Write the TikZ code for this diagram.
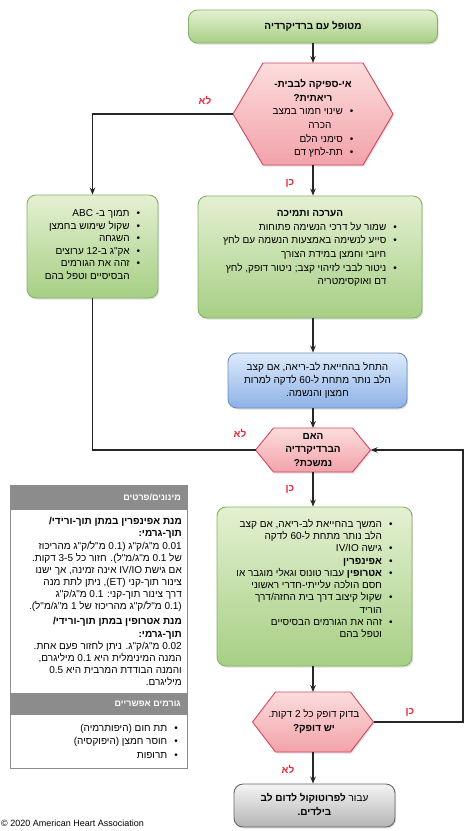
\documentclass[tikz,border=0pt]{standalone}
\usepackage{fontspec}
\setmainfont{Liberation Sans}
\newfontfamily\hebfont{Liberation Sans}[Script=Hebrew]
\usetikzlibrary{arrows.meta,shadows}
\TeXXeTstate=1

\definecolor{grnline}{HTML}{82B366}
\definecolor{grntop}{HTML}{E4F0D2}
\definecolor{grnbot}{HTML}{A6CF84}
\definecolor{pnkline}{HTML}{D6455E}
\definecolor{pnktop}{HTML}{FCDDDD}
\definecolor{pnkbot}{HTML}{F2A2AA}
\definecolor{blueline}{HTML}{6C8EBF}
\definecolor{bluetop}{HTML}{DDEAFB}
\definecolor{bluebot}{HTML}{8DB2E6}
\definecolor{grayline}{HTML}{666666}
\definecolor{graytop}{HTML}{F4F4F4}
\definecolor{graybot}{HTML}{B5B5B5}
\definecolor{hdrgray}{HTML}{8C8C8C}
\definecolor{yesno}{HTML}{E0283C}

% one right-to-left line, a bullet line, a continued line
\newcommand\rl[1]{\beginR#1\endR}
\newcommand\bl[1]{\rl{\textbullet\hspace{7pt}#1}}
\newcommand\cl[1]{\rl{\hphantom{\textbullet}\hspace*{7pt}#1}}
\newcommand\tc[1]{\multicolumn{1}{@{}c@{}}{#1}}

% hexagon: name, cx, cy, half width, half height, inset
\newcommand\hexshape[6]{%
  \path[hexfill] (#2-#4,#3) -- (#2-#4+#6,#3-#5) -- (#2+#4-#6,#3-#5)
    -- (#2+#4,#3) -- (#2+#4-#6,#3+#5) -- (#2-#4+#6,#3+#5) -- cycle;
  \coordinate (#1w) at (#2-#4,#3);
  \coordinate (#1e) at (#2+#4,#3);
  \coordinate (#1n) at (#2,#3-#5);
  \coordinate (#1s) at (#2,#3+#5);
}

\begin{document}
\begin{tikzpicture}[x=1pt,y=-1pt,
  every node/.style={font=\hebfont\fontsize{10}{13.6}\selectfont},
  flowline/.style={draw=black!85,line width=1.1pt},
  arr/.style={flowline,-{Stealth[length=7pt,width=5.5pt]}},
  box/.style={rounded corners=9pt,line width=0.9pt,inner sep=0pt,
    drop shadow={shadow xshift=1.2pt,shadow yshift=-1.5pt,opacity=0.25}},
  greenbox/.style={box,draw=grnline,top color=grntop,bottom color=grnbot},
  bluebox/.style={box,draw=blueline,top color=bluetop,bottom color=bluebot},
  graybox/.style={box,draw=grayline,top color=graytop,bottom color=graybot},
  hexfill/.style={draw=pnkline,line width=0.9pt,top color=pnktop,bottom color=pnkbot,
    drop shadow={shadow xshift=1.2pt,shadow yshift=-1.5pt,opacity=0.25}},
  answer/.style={text=yesno,font=\hebfont\fontsize{10}{12}\selectfont\bfseries},
  panelhead/.style={text=white,anchor=east,inner sep=0pt,
    font=\hebfont\fontsize{9}{11}\selectfont\bfseries},
  paneltext/.style={anchor=north east,inner sep=0pt,
    font=\hebfont\fontsize{10}{12.15}\selectfont},
]
\useasboundingbox (0,0) rectangle (471,831);

% flowchart
\node[greenbox,minimum width=249pt,minimum height=33pt] (start) at (313,26.5)
  {\bfseries\rl{מטופל עם ברדיקרדיה}};

\hexshape{hfail}{313}{114}{80}{51}{30}
\node (hfailtxt) at (313,119) {\begin{tabular}{@{}r@{}}
  \tc{\bfseries\rl{אי-ספיקה לבבית-}}\\
  \tc{\bfseries\rl{ריאתית?}}\\
  \bl{שינוי חמור במצב}\\
  \rl{\hspace*{22pt}הכרה}\\
  \bl{סימני הלם}\\
  \bl{תת-לחץ דם}
\end{tabular}};

\node[greenbox,minimum width=131pt,minimum height=103pt,
  font=\hebfont\fontsize{10}{12.5}\selectfont] (support) at (92.5,246.5)
  {\begin{tabular}{@{}r@{}}
  \bl{תמוך ב- ABC}\\
  \bl{שקול שימוש בחמצן}\\
  \bl{השגחה}\\
  \bl{אק"ג ב-12 ערוצים}\\
  \bl{זהה את הגורמים}\\
  \cl{הבסיסיים וטפל בהם}\\[2pt]
\end{tabular}};

\node[greenbox,minimum width=224pt,minimum height=122pt] (assess) at (310,257)
  {\begin{tabular}{@{}r@{}}
  \tc{\bfseries\rl{הערכה ותמיכה}}\\
  \bl{שמור על דרכי הנשימה פתוחות}\\
  \bl{סייע לנשימה באמצעות הנשמה עם לחץ}\\
  \cl{חיובי וחמצן במידת הצורך}\\
  \bl{ניטור לבבי לזיהוי קצב; ניטור דופק, לחץ}\\
  \cl{דם ואוקסימטריה}\\[18pt]
\end{tabular}};

\node[bluebox,minimum width=179pt,minimum height=55pt,
  font=\hebfont\fontsize{10}{13}\selectfont] (cpr) at (317.5,380.5)
  {\begin{tabular}{@{}c@{}}
  \rl{התחל בהחייאת לב-ריאה, אם קצב}\\
  \rl{הלב נותר מתחת ל-60 לדקה למרות}\\
  \rl{חמצון והנשמה.}
\end{tabular}};

\hexshape{hpers}{313}{450}{57.5}{22}{18}
\node (hperstxt) at (313,450) {\bfseries\begin{tabular}{@{}c@{}}
  \rl{האם}\\
  \rl{הברדיקרדיה}\\
  \rl{נמשכת?}
\end{tabular}};

\node[greenbox,minimum width=195pt,minimum height=159pt,
  font=\hebfont\fontsize{10}{12.3}\selectfont] (treat) at (314.5,586.5)
  {\begin{tabular}{@{}r@{}}
  \bl{המשך בהחייאת לב-ריאה, אם קצב}\\
  \cl{הלב נותר מתחת ל-60 לדקה}\\
  \bl{גישה IV/IO}\\
  \bl{\bfseries אפינפרין}\\
  \bl{{\bfseries אטרופין} עבור טונוס וגאלי מוגבר או}\\
  \cl{חסם הולכה עלייתי-חדרי ראשוני}\\
  \bl{שקול קיצוב דרך בית החזה/דרך}\\
  \cl{הוריד}\\
  \bl{זהה את הגורמים הבסיסיים}\\
  \cl{וטפל בהם}\\[13pt]
\end{tabular}};

\hexshape{hpulse}{313}{722}{60.5}{30}{23}
\node (hpulsetxt) at (314,722) {\begin{tabular}{@{}c@{}}
  \rl{בדוק דופק כל 2 דקות.}\\
  \bfseries\rl{יש דופק?}
\end{tabular}};

\node[graybox,minimum width=161pt,minimum height=43pt] (arrest) at (314.5,805.5)
  {\begin{tabular}{@{}c@{}}
  \rl{עבור {\bfseries לפרוטוקול לדום לב}}\\
  \bfseries\rl{בילדים.}
\end{tabular}};

\coordinate (loop) at (463,722);

% connectors
\draw[arr] (start.south) -- (hfailn);
\draw[arr] (hfailw) -| (support.north);
\draw[arr] (hfails) -- (assess.north -| hfails);
\draw[arr] (assess.south -| hfails) -- (cpr.north -| hfails);
\draw[arr] (cpr.south -| hfails) -- (hpersn);
\draw[flowline] (support.south) |- (hpersw);
\draw[arr] (hperss) -- (treat.north -| hperss);
\draw[arr] (treat.south -| hperss) -- (hpulsen);
\draw[arr] (hpulses) -- (arrest.north -| hpulses);
\draw[arr] (hpulsee) -- (loop) |- (hperse);

\node[answer] (no1) at (205,101) {\rl{לא}};
\node[answer] (yes1) at (290,183) {\rl{כן}};
\node[answer] (no2) at (240,434) {\rl{לא}};
\node[answer] (yes2) at (290,489) {\rl{כן}};
\node[answer] (yes3) at (410,712) {\rl{כן}};
\node[answer] (no3) at (288,770) {\rl{לא}};

% side panel
\draw[draw=black!45,fill=white,line width=0.8pt] (10,485) rectangle (187,768);
\fill[hdrgray] (10,485) rectangle (187,510);
\fill[hdrgray] (10,693) rectangle (187,715);
\node[panelhead] (dosehead) at (181,497.5) {\rl{מינונים/פרטים}};
\node[panelhead] (causehead) at (181,704) {\rl{גורמים אפשריים}};

\node[paneltext] (dosetxt) at (182,516) {\begin{tabular}{@{}r@{}}
  \bfseries\rl{מנת אפינפרין במתן תוך-ורידי/}\\
  \bfseries\rl{תוך-גרמי:}\\
  \rl{0.01 מ"ג/ק"ג (0.1 מ"ל/ק"ג מהריכוז}\\
  \rl{של 0.1 מ"ג/מ"ל). חזור כל 3-5 דקות.}\\
  \rl{אם גישת IV/IO אינה זמינה, אך ישנו}\\
  \rl{צינור תוך-קני (ET)\kern0pt, ניתן לתת מנה}\\
  \rl{דרך צינור תוך-קני: 0.1 מ"ג/ק"ג}\\
  \rl{(0.1 מ"ל/ק"ג מהריכוז של 1 מ"ג/מ"ל).}\\[3pt]
  \bfseries\rl{מנת אטרופין במתן תוך-ורידי/}\\
  \bfseries\rl{תוך-גרמי:}\\
  \rl{0.02 מ"ג/ק"ג. ניתן לחזור פעם אחת.}\\
  \rl{המנה המינימלית היא 0.1 מיליגרם,}\\
  \rl{והמנה הבודדת המרבית היא 0.5}\\
  \rl{מיליגרם.}
\end{tabular}};

\node[paneltext,font=\hebfont\fontsize{10}{13.4}\selectfont] (causetxt) at (178,722)
  {\begin{tabular}{@{}r@{}}
  \bl{תת חום (היפותרמיה)}\\
  \bl{חוסר חמצן (היפוקסיה)}\\
  \bl{תרופות}
\end{tabular}};

\node[anchor=west,inner sep=0pt,font=\rmfamily\fontsize{9}{10}\selectfont] (copy)
  at (1,823) {© 2020 American Heart Association};
\end{tikzpicture}
\end{document}
